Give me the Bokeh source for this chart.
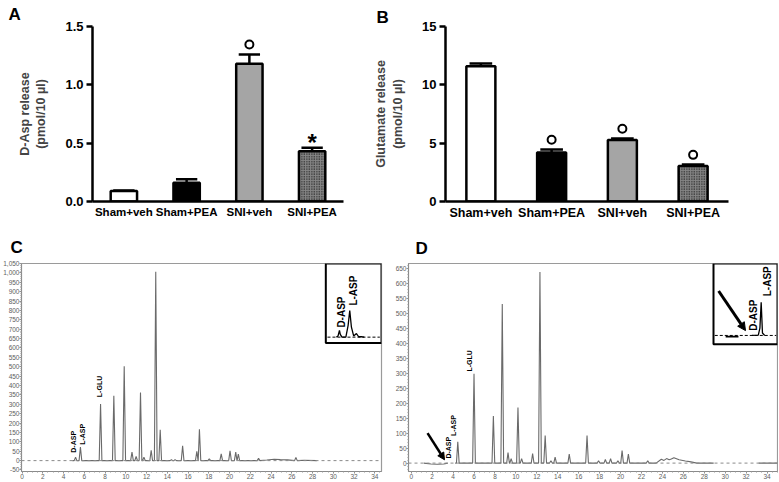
import numpy as np
from bokeh.plotting import figure
from bokeh.layouts import column, row
from bokeh.models import (Range1d, FixedTicker, SingleIntervalTicker, NumeralTickFormatter,
                          Arrow, NormalHead, ColumnDataSource, Span)
from bokeh.core.properties import value, field
from bokeh.embed import file_html
from bokeh.resources import INLINE

FONT = "Liberation Sans"

# ---------------- data: bar panels ----------------
groups = ["Sham+veh", "Sham+PEA", "SNI+veh", "SNI+PEA"]
dasp_mean = [0.09, 0.16, 1.18, 0.43]
dasp_sem = [0.004, 0.03, 0.08, 0.03]
dasp_mark = ["", "", "o", "*"]
dasp_ticks = [0.0, 0.5, 1.0, 1.5]
glu_mean = [11.6, 4.2, 5.27, 3.04]
glu_sem = [0.23, 0.26, 0.13, 0.13]
glu_mark = ["", "o", "o", "o"]
glu_ticks = [0, 5, 10, 15]

# ---------------- data: chromatogram C ----------------
c_peak_time = [5.16, 5.63, 7.57, 8.85, 9.85, 10.6, 11.0, 11.42, 11.75, 12.45, 12.89,
               13.32, 14.4, 14.75, 15.48, 16.85, 17.1, 18.05, 19.2, 20.05, 20.6, 20.85,
               22.8, 26.4]
c_peak_height = [18, 72, 301, 345, 502, 46, 22, 363, 18, 55, 1006,
                 164, 5, 5, 79, 50, 167, 10, 36, 52, 45, 35,
                 12, 17]
c_drift_time = [4.85, 21.6, 23.6, 24.3, 24.9, 25.6, 27.2, 28.4]
c_drift_sig = [0, 0, 3, 7, 5, 4, 2, 0]
c_labels = ["D-ASP", "L-ASP", "L-GLU"]
c_label_time = [4.95, 5.8, 7.5]
c_label_sig = [42, 84, 338]
# inset C (local 0..1 units)
ci_time = [0.19, 0.22, 0.245, 0.26, 0.29, 0.36, 0.40, 0.43, 0.46, 0.50, 0.55, 0.59, 0.64, 0.69]
ci_sig = [0.075, 0.09, 0.16, 0.11, 0.075, 0.075, 0.22, 0.41, 0.2, 0.09, 0.12, 0.08, 0.08, 0.075]
ci_labels = ["D-ASP", "L-ASP"]
ci_label_x = [0.28, 0.49]
ci_label_y = [0.39, 0.66]

# ---------------- data: chromatogram D ----------------
d_peak_time = [4.45, 6.0, 7.85, 8.7, 9.25, 9.55, 10.2, 10.55, 11.6, 12.3, 12.8, 13.35,
               13.75, 15.1, 16.8, 17.9, 18.55, 19.05, 19.75, 20.15, 20.75, 22.6]
d_peak_height = [71, 298, 157, 530, 35, 15, 185, 15, 32, 637, 92, 8,
                 20, 30, 92, 8, 12, 15, 8, 42, 30, 8]
d_drift_time = [4.2, 23.4, 23.9, 24.15, 24.4, 24.65, 24.85, 25.1, 25.6, 26.2, 26.6, 27.3, 28.9]
d_drift_sig = [0, 0, 13, 9, 15, 11, 14, 18, 11, 7, 5, 0, 0]
d_dip_time = [1.2, 1.9, 2.5, 3.1, 3.5]
d_dip_sig = [0, -3, -4, -3, 0]
d_tail_time = [33.2, 35.0]
d_tail_sig = [0, 0]
d_labels = ["D-ASP", "L-ASP", "L-GLU"]
d_label_time = [3.56, 4.04, 5.57]
d_label_sig = [15, 90, 305]
# inset D (local 0..1 units)
di_time = [0.60, 0.70, 0.725, 0.745, 0.765, 0.80]
di_sig = [0.11, 0.115, 0.2, 0.52, 0.14, 0.11]
di_dip_time = [0.19, 0.39]
di_dip_sig = [0.095, 0.095]
di_labels = ["D-ASP", "L-ASP"]
di_label_x = [0.62, 0.84]
di_label_y = [0.36, 0.78]

PEAK_HW = 0.13


def build_trace(times, heights, drift_t, drift_s):
    pts = [(t, s) for t, s in zip(drift_t, drift_s)]
    for t, h in zip(times, heights):
        pts += [(t - PEAK_HW, 0.0), (t, h), (t + PEAK_HW, 0.0)]
    pts.sort()
    return [p[0] for p in pts], [p[1] for p in pts]


class Geom:
    """canvas geometry of a figure: frame edges (px) and data ranges"""
    def __init__(self, w, h, fl, fr, ft, fb, xr, yr):
        self.w, self.h = w, h
        self.fl, self.fr, self.ft, self.fb = fl, fr, ft, fb
        self.xr, self.yr = xr, yr

    def x(self, px):
        return self.xr[0] + (px - self.fl) / (self.fr - self.fl) * (self.xr[1] - self.xr[0])

    def y(self, py):
        return self.yr[0] + (self.fb - py) / (self.fb - self.ft) * (self.yr[1] - self.yr[0])

    def dy(self, dpx):
        return dpx / (self.fb - self.ft) * (self.yr[1] - self.yr[0])


def make_fig(g, let, lx, standoff):
    p = figure(width=g.w, height=g.h, x_range=Range1d(*g.xr), y_range=Range1d(*g.yr),
               output_backend="svg", toolbar_location=None,
               min_border_left=g.fl, min_border_right=g.w - g.fr,
               min_border_top=g.ft, min_border_bottom=g.h - g.fb)
    p.grid.visible = False
    p.title.text = let
    p.title.align = "left"
    p.title.offset = lx - g.fl
    p.title.standoff = standoff
    p.title.text_font = FONT
    p.title.text_font_style = "bold"
    p.title.text_font_size = "17px"
    p.title.text_color = "black"
    return p


def bar_panel(g, let, lx, standoff, means, sems, marks, fmt, ylabel, bar_w, cap_half, fs):
    p = make_fig(g, let, lx, standoff)
    p.outline_line_color = None
    x = np.arange(len(groups)) + 0.5
    tops = np.array(means, dtype=float)
    errs = np.array(sems, dtype=float)
    src = ColumnDataSource(dict(x=x, top=tops,
                                fill=["white", "black", "#a5a5a5", "#858585"],
                                hatch=[" ", " ", " ", "."]))
    p.vbar(x="x", top="top", bottom=0, width=bar_w, source=src, fill_color="fill",
           line_color="black", line_width=2.5, hatch_pattern=field("hatch"),
           hatch_color="black", hatch_scale=2.5, hatch_weight=1.3)
    p.segment(x0=x, y0=tops, x1=x, y1=tops + errs, line_color="black", line_width=2.5)
    p.segment(x0=x - cap_half, y0=tops + errs, x1=x + cap_half, y1=tops + errs,
              line_color="black", line_width=2.5)
    ci = [i for i, m in enumerate(marks) if m == "o"]
    if ci:
        p.scatter(x[ci], (tops + errs)[ci] + g.dy(10), marker="circle", size=8,
                  line_width=2, line_color="black", fill_color="white")
    si = [i for i, m in enumerate(marks) if m == "*"]
    if si:
        p.text(x[si], (tops + errs)[si] + g.dy(5), text=["*"] * len(si),
               text_font=value(FONT), text_font_style="bold", text_font_size="24px",
               text_align="center", text_baseline="middle", text_color="black")
    p.xaxis.ticker = FixedTicker(ticks=list(x))
    p.xaxis.major_label_overrides = {float(xi): gname for xi, gname in zip(x, groups)}
    p.xaxis.major_tick_line_color = None
    p.xaxis.major_tick_out = 0
    p.xaxis.major_tick_in = 0
    p.xaxis.minor_tick_line_color = None
    p.yaxis.ticker = FixedTicker(ticks=[float(t) for t in g.yticks])
    p.yaxis.formatter = NumeralTickFormatter(format=fmt)
    p.yaxis.minor_tick_line_color = None
    p.yaxis.major_tick_out = 6
    p.yaxis.major_tick_in = 0
    p.yaxis.major_tick_line_width = 2.5
    for ax in (p.xaxis[0], p.yaxis[0]):
        ax.axis_line_width = 2.5
        ax.axis_line_color = "black"
        ax.major_label_text_font = FONT
        ax.major_label_text_font_style = "bold"
        ax.major_label_text_color = "black"
    p.xaxis.major_label_text_font_size = fs
    p.xaxis.major_label_standoff = 4
    p.yaxis.major_label_text_font_size = "13px"
    p.yaxis.major_label_standoff = 3
    p.yaxis.axis_label = ylabel
    p.yaxis.axis_label_text_font = FONT
    p.yaxis.axis_label_text_font_style = "bold"
    p.yaxis.axis_label_text_font_size = "12.5px"
    p.yaxis.axis_label_standoff = 14
    return p


def chrom_panel(g, let, lx, standoff):
    p = make_fig(g, let, lx, standoff)
    p.outline_line_color = "#9a9a9a"
    p.outline_line_width = 1.2
    for ax in (p.xaxis[0], p.yaxis[0]):
        ax.axis_line_color = "#8a8a8a"
        ax.major_tick_line_color = "#8a8a8a"
        ax.minor_tick_line_color = "#9a9a9a"
        ax.major_tick_out = 2
        ax.major_tick_in = 0
        ax.minor_tick_out = 1
        ax.minor_tick_in = 0
        ax.major_label_text_font = FONT
        ax.major_label_text_font_size = "6.5px"
        ax.major_label_text_color = "#606060"
        ax.major_label_standoff = 0
    p.yaxis.ticker = SingleIntervalTicker(interval=50, num_minor_ticks=5)
    p.yaxis.formatter = NumeralTickFormatter(format="0,0")
    p.xaxis.ticker = SingleIntervalTicker(interval=2, num_minor_ticks=4)
    p.add_layout(Span(location=0, dimension="width", line_color="#8a8a8a",
                      line_dash="3 3", line_width=1))
    return p


def peak_labels(p, texts, xs, ys, size):
    p.text(x=xs, y=ys, text=texts, angle=np.pi / 2, text_font=value(FONT),
           text_font_style="bold", text_font_size=size, text_align="left",
           text_baseline="middle", text_color="black")


def inset_map(box, fx, fy):
    x0, x1, y0, y1 = box
    return ([x0 + f * (x1 - x0) for f in fx], [y0 + f * (y1 - y0) for f in fy])


# ---------------- panels A & B (row 1) ----------------
H1 = 228
gA = Geom(370, H1, 92, 343, 25, 201, (0, len(groups)), (dasp_ticks[0], dasp_ticks[-1]))
gA.yticks = dasp_ticks
pA = bar_panel(gA, "A", 8, 5, dasp_mean, dasp_sem, dasp_mark, "0.0",
               "D-Asp release\n(pmol/10 \u00b5l)", 0.42, 0.17, "11.5px")
gB = Geom(408, H1, 75, 358, 20, 201, (0, len(groups)), (glu_ticks[0], glu_ticks[-1]))
gB.yticks = glu_ticks
pB = bar_panel(gB, "B", 6, 0, glu_mean, glu_sem, glu_mark, "0",
               "Glutamate release\n(pmol/10 \u00b5l)", 0.41, 0.16, "12.5px")

# ---------------- panel C (row 2) ----------------
H2 = 253
gC = Geom(389, H2, 19, 381, 34, 243, (-0.05, 34.65), (-58, 1050))
pC = chrom_panel(gC, "C", 8, 14)
tx, ty = build_trace(c_peak_time, c_peak_height, c_drift_time, c_drift_sig)
pC.line(tx, ty, line_color="#6a6a6a", line_width=1.1)
peak_labels(pC, c_labels, c_label_time, c_label_sig, "7px")
c_box = (gC.x(325), gC.xr[1], gC.y(114), gC.yr[1])
pC.quad(left=c_box[0], right=c_box[1], bottom=c_box[2], top=c_box[3], fill_color="white",
        line_color="black", line_width=2)
bx, by = inset_map(c_box, [0.03, 0.97], [0.075, 0.075])
pC.line(bx, by, line_color="black", line_dash="3 2", line_width=1)
ix, iy = inset_map(c_box, ci_time, ci_sig)
pC.line(ix, iy, line_color="black", line_width=1.3)
lx, ly = inset_map(c_box, ci_label_x, ci_label_y)
pC.text(x=lx, y=ly, text=ci_labels, angle=np.pi / 2, text_font=value(FONT),
        text_font_style="bold", text_font_size="10px", text_align="center",
        text_baseline="middle", text_color="black")

# ---------------- panel D (row 2) ----------------
gD = Geom(389, H2, 19, 388, 32, 243, (-0.26, 35.0), (-28, 665))
pD = chrom_panel(gD, "D", 26, 12)
tx, ty = build_trace(d_peak_time, d_peak_height, d_drift_time, d_drift_sig)
pD.line(tx, ty, line_color="#6a6a6a", line_width=1.1)
pD.line(d_dip_time, d_dip_sig, line_color="#6a6a6a", line_width=1.1)
pD.line(d_tail_time, d_tail_sig, line_color="#6a6a6a", line_width=1.1)
peak_labels(pD, d_labels, d_label_time, d_label_sig, "7px")
pD.add_layout(Arrow(end=NormalHead(size=7, fill_color="black", line_color="black"),
                    x_start=1.56, y_start=100, x_end=3.18, y_end=11,
                    line_color="black", line_width=2.5))
d_box = (gD.x(713 - 389), gD.xr[1], gD.y(342 - 228), gD.yr[1])
pD.quad(left=d_box[0], right=d_box[1], bottom=d_box[2], top=d_box[3], fill_color="white",
        line_color="black", line_width=2)
bx, by = inset_map(d_box, [0.02, 0.98], [0.11, 0.11])
pD.line(bx, by, line_color="black", line_dash="3 2", line_width=1)
ix, iy = inset_map(d_box, di_dip_time, di_dip_sig)
pD.line(ix, iy, line_color="black", line_width=1.6)
ix, iy = inset_map(d_box, di_time, di_sig)
pD.line(ix, iy, line_color="black", line_width=1.3)
lx, ly = inset_map(d_box, di_label_x, di_label_y)
pD.text(x=lx, y=ly, text=di_labels, angle=np.pi / 2, text_font=value(FONT),
        text_font_style="bold", text_font_size="10px", text_align="center",
        text_baseline="middle", text_color="black")
ax_, ay_ = inset_map(d_box, [0.08, 0.5], [0.66, 0.17])
pD.add_layout(Arrow(end=NormalHead(size=8, fill_color="black", line_color="black"),
                    x_start=ax_[0], y_start=ay_[0], x_end=ax_[1], y_end=ay_[1],
                    line_color="black", line_width=3))

layout = column(row(pA, pB), row(pC, pD))
open("out.html", "w").write(file_html(layout, INLINE))
